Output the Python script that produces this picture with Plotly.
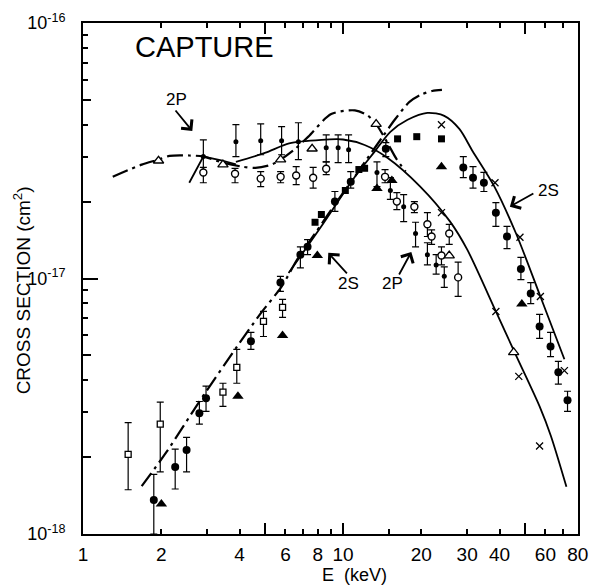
import math
import plotly.graph_objects as go

# ---------------- theory curves ----------------
p2_dashdot_E = [1.30, 1.68, 1.95, 2.15, 2.56, 2.9, 3.45, 4.08, 4.6, 5.3, 5.75, 6.5, 7.35, 9.0, 11.1, 12.4, 13.4, 14.8, 16.0, 17.4]
p2_dashdot_sigma = [2.5e-17, 2.79e-17, 2.92e-17, 3.02e-17, 3.03e-17, 3.0e-17, 2.84e-17, 2.74e-17, 2.71e-17, 2.79e-17, 2.92e-17, 3.2e-17, 3.59e-17, 4.4e-17, 4.55e-17, 4.35e-17, 4.02e-17, 3.4e-17, 2.95e-17, 2.62e-17]

s2_dashdot_E = [1.68, 2.09, 2.8, 3.9, 4.82, 5.8, 6.7, 7.8, 9.2, 10.7, 12.4, 14.2, 15.8, 18.0, 20.0, 22.0, 24.0]
s2_dashdot_sigma = [1.54e-18, 2.09e-18, 3.3e-18, 5.4e-18, 7.3e-18, 9.3e-18, 1.2e-17, 1.5e-17, 1.92e-17, 2.38e-17, 2.95e-17, 3.59e-17, 4.18e-17, 4.91e-17, 5.25e-17, 5.42e-17, 5.47e-17]

p2_solid_a_E = [2.56, 2.9, 3.4, 3.87]
p2_solid_a_sigma = [2.37e-17, 3.0e-17, 2.9e-17, 2.8e-17]
p2_solid_b_E = [3.87, 5.0, 6.2, 8.25, 10.0, 12.1, 14.8, 19.8, 25.8, 30.0, 38.7, 46.5, 57.0, 63.0, 72.3]
p2_solid_b_sigma = [2.86e-17, 3.1e-17, 3.38e-17, 3.49e-17, 3.5e-17, 3.33e-17, 2.97e-17, 2.29e-17, 1.67e-17, 1.3e-17, 7.43e-18, 4.95e-18, 3.16e-18, 2.42e-18, 1.53e-18]

s2_solid_E = [6.17, 8.25, 11.1, 13.2, 15.2, 17.7, 21.1, 24.5, 28.0, 31.5, 38.1, 46.4, 57.4, 71.0]
s2_solid_sigma = [1.05e-17, 1.6e-17, 2.5e-17, 3.13e-17, 3.75e-17, 4.18e-17, 4.45e-17, 4.33e-17, 3.85e-17, 3.15e-17, 2.3e-17, 1.49e-17, 8.5e-18, 4.83e-18]

# ---------------- 2P data ----------------
p2_dot_E = [2.9, 3.87, 4.82, 5.8, 6.73, 8.61, 9.57, 10.5, 13.5, 15.2, 17.1, 19.0, 21.1, 22.8, 24.5]
p2_dot_sigma = [3.0e-17, 3.43e-17, 3.46e-17, 3.46e-17, 3.43e-17, 3.25e-17, 3.25e-17, 3.19e-17, 2.6e-17, 2.21e-17, 1.91e-17, 1.5e-17, 1.24e-17, 1.13e-17, 1.02e-17]
p2_dot_lo = [2.6e-17, 3.0e-17, 3.05e-17, 3.05e-17, 2.92e-17, 2.86e-17, 2.84e-17, 2.84e-17, 2.29e-17, 2.04e-17, 1.67e-17, 1.33e-17, 1.13e-17, 1.04e-17, 9.23e-18]
p2_dot_hi = [3.49e-17, 4.0e-17, 4.03e-17, 3.93e-17, 4.07e-17, 3.65e-17, 3.65e-17, 3.65e-17, 2.86e-17, 2.48e-17, 2.13e-17, 1.66e-17, 1.38e-17, 1.24e-17, 1.11e-17]

p2_open_E = [2.9, 3.84, 4.82, 5.75, 6.6, 7.67, 8.61, 14.5, 16.1, 18.8, 21.1, 21.9, 23.9, 25.6, 27.7]
p2_open_sigma = [2.6e-17, 2.57e-17, 2.46e-17, 2.5e-17, 2.53e-17, 2.48e-17, 2.69e-17, 2.5e-17, 2.0e-17, 1.91e-17, 1.63e-17, 1.46e-17, 1.23e-17, 1.5e-17, 1.01e-17]
p2_open_lo = [2.37e-17, 2.37e-17, 2.29e-17, 2.37e-17, 2.33e-17, 2.26e-17, 2.55e-17, 2.37e-17, 1.86e-17, 1.81e-17, 1.46e-17, 1.36e-17, 1.13e-17, 1.36e-17, 8.51e-18]
p2_open_hi = [2.72e-17, 2.7e-17, 2.62e-17, 2.62e-17, 2.74e-17, 2.72e-17, 2.86e-17, 2.67e-17, 2.17e-17, 2.0e-17, 1.81e-17, 1.55e-17, 1.33e-17, 1.63e-17, 1.16e-17]

p2_tri_E = [1.95, 3.45, 5.75, 7.6, 13.4, 25.6, 45.3]
p2_tri_sigma = [2.89e-17, 2.79e-17, 2.92e-17, 3.22e-17, 4.02e-17, 1.23e-17, 5.14e-18]

# ---------------- crosses ----------------
cross_E = [23.9, 38.7, 47.4, 57.0, 23.9, 38.4, 47.9, 57.4, 71.0]
cross_sigma = [1.81e-17, 7.43e-18, 4.14e-18, 2.21e-18, 4.0e-17, 2.37e-17, 1.45e-17, 8.5e-18, 4.36e-18]

# ---------------- 2S data ----------------
s2_sq_E = [7.8, 8.25, 10.2, 11.5, 12.1, 16.2, 19.2, 23.9]
s2_sq_sigma = [1.66e-17, 1.78e-17, 2.21e-17, 2.67e-17, 2.7e-17, 3.52e-17, 3.59e-17, 3.52e-17]

s2_dot_E = [1.87, 2.26, 2.5, 2.8, 2.97, 4.42, 5.74, 6.85, 7.3, 9.3, 10.7, 14.6,
            29.0, 31.6, 34.8, 38.7, 42.7, 48.3, 52.7, 57.0, 62.8, 67.3, 73.0]
s2_dot_sigma = [1.36e-18, 1.83e-18, 2.13e-18, 2.97e-18, 3.4e-18, 5.68e-18, 9.64e-18, 1.24e-17, 1.33e-17, 2.0e-17, 2.39e-17, 3.22e-17,
                2.72e-17, 2.48e-17, 2.37e-17, 1.81e-17, 1.46e-17, 1.09e-17, 8.73e-18, 6.49e-18, 5.42e-18, 4.3e-18, 3.34e-18]
s2_dot_lo = [1.0e-18, 1.5e-18, 1.75e-18, 2.69e-18, 3.02e-18, 5.28e-18, 8.9e-18, 1.1e-17, 1.24e-17, 1.83e-17, 2.26e-17, 3.0e-17,
             2.48e-17, 2.26e-17, 2.19e-17, 1.6e-17, 1.31e-17, 9.9e-18, 7.98e-18, 5.83e-18, 4.95e-18, 3.86e-18, 3.02e-18]
s2_dot_hi = [1.71e-18, 2.15e-18, 2.39e-18, 3.3e-18, 3.79e-18, 6.15e-18, 1.02e-17, 1.33e-17, 1.42e-17, 2.19e-17, 2.62e-17, 3.4e-17,
             3.0e-17, 2.74e-17, 2.6e-17, 1.98e-17, 1.6e-17, 1.21e-17, 9.64e-18, 7.24e-18, 6.15e-18, 4.74e-18, 3.62e-18]

s2_tri_E = [2.0, 3.94, 5.85, 7.96, 13.5, 15.4, 23.9, 48.7]
s2_tri_sigma = [1.31e-18, 3.46e-18, 5.98e-18, 1.23e-17, 2.25e-17, 2.42e-17, 2.74e-17, 7.94e-18]

s2_osq_E = [1.49, 1.98, 3.45, 3.9, 4.94, 5.85]
s2_osq_sigma = [2.05e-18, 2.69e-18, 3.59e-18, 4.49e-18, 6.79e-18, 7.71e-18]
s2_osq_lo = [1.49e-18, 1.75e-18, 3.16e-18, 3.89e-18, 5.93e-18, 7.05e-18]
s2_osq_hi = [2.73e-18, 3.28e-18, 3.89e-18, 5.28e-18, 7.43e-18, 8.28e-18]

# ---------------- axes ----------------
x_label_vals = [1, 2, 4, 6, 8, 10, 20, 30, 40, 60, 80]
x_label_text = ["1", "2", "4", "6", "8", "10", "20", "30", "40", "60", "80"]
x_minor_vals = [3, 5, 7, 9, 15, 50, 70]
x_long_vals = [5, 10, 50]
y_label_vals = [1e-18, 1e-17, 1e-16]
y_label_text = ["10<sup>-18</sup>", "10<sup>-17</sup>", "10<sup>-16</sup>"]
y_mid_vals = [2e-18, 5e-18, 2e-17, 5e-17]
y_minor_vals = [3e-18, 4e-18, 6e-18, 7e-18, 8e-18, 9e-18, 3e-17, 4e-17, 6e-17, 7e-17, 8e-17, 9e-17]

FONT = "Liberation Sans, Arial, sans-serif"
K = "black"
DASHDOT = "16px,5px,3px,5px"

fig = go.Figure()


def err(y, lo, hi):
    return dict(type="data", symmetric=False,
                array=[h - v for v, h in zip(y, hi)],
                arrayminus=[v - l for v, l in zip(y, lo)],
                color=K, thickness=1.2, width=3.5)


# curves
fig.add_trace(go.Scatter(x=p2_dashdot_E, y=p2_dashdot_sigma, mode="lines",
                         line=dict(color=K, width=2.2, dash=DASHDOT, shape="spline", smoothing=0.8)))
fig.add_trace(go.Scatter(x=s2_dashdot_E, y=s2_dashdot_sigma, mode="lines",
                         line=dict(color=K, width=2.2, dash=DASHDOT, shape="spline", smoothing=0.8)))
fig.add_trace(go.Scatter(x=p2_solid_a_E, y=p2_solid_a_sigma, mode="lines",
                         line=dict(color=K, width=1.8)))
fig.add_trace(go.Scatter(x=p2_solid_b_E, y=p2_solid_b_sigma, mode="lines",
                         line=dict(color=K, width=1.8, shape="spline", smoothing=0.8)))
fig.add_trace(go.Scatter(x=s2_solid_E, y=s2_solid_sigma, mode="lines",
                         line=dict(color=K, width=1.8, shape="spline", smoothing=0.8)))

# data
fig.add_trace(go.Scatter(x=p2_dot_E, y=p2_dot_sigma, mode="markers",
                         marker=dict(symbol="circle", size=5, color=K),
                         error_y=err(p2_dot_sigma, p2_dot_lo, p2_dot_hi)))
fig.add_trace(go.Scatter(x=p2_open_E, y=p2_open_sigma, mode="markers",
                         marker=dict(symbol="circle", size=7, color="white", line=dict(color=K, width=1.4)),
                         error_y=err(p2_open_sigma, p2_open_lo, p2_open_hi)))
fig.add_trace(go.Scatter(x=p2_tri_E, y=p2_tri_sigma, mode="markers",
                         marker=dict(symbol="triangle-up", size=9, color="white", line=dict(color=K, width=1.3))))
fig.add_trace(go.Scatter(x=cross_E, y=cross_sigma, mode="markers",
                         marker=dict(symbol="x-thin", size=7, color=K, line=dict(color=K, width=1.3))))
fig.add_trace(go.Scatter(x=s2_sq_E, y=s2_sq_sigma, mode="markers",
                         marker=dict(symbol="square", size=7, color=K)))
fig.add_trace(go.Scatter(x=s2_dot_E, y=s2_dot_sigma, mode="markers",
                         marker=dict(symbol="circle", size=8, color=K),
                         error_y=err(s2_dot_sigma, s2_dot_lo, s2_dot_hi)))
fig.add_trace(go.Scatter(x=s2_tri_E, y=s2_tri_sigma, mode="markers",
                         marker=dict(symbol="triangle-up", size=10, color=K)))
fig.add_trace(go.Scatter(x=s2_osq_E, y=s2_osq_sigma, mode="markers",
                         marker=dict(symbol="square", size=6, color="white", line=dict(color=K, width=1.3)),
                         error_y=err(s2_osq_sigma, s2_osq_lo, s2_osq_hi)))

# dummy trace on overlay axes so they render
fig.add_trace(go.Scatter(x=[None], y=[None], xaxis="x2", yaxis="y2", showlegend=False))

lx = [math.log10(1) - 0.0005, math.log10(80) + 0.0005]
ly = [-18, -16]

fig.update_layout(
    width=589, height=586,
    margin=dict(l=83, r=11, t=23, b=52, autoexpand=False),
    paper_bgcolor="white", plot_bgcolor="white",
    showlegend=False,
    font=dict(family=FONT, color=K),
    xaxis=dict(type="log", range=lx, showgrid=False, zeroline=False, automargin=False,
               showline=True, linecolor=K, linewidth=2, mirror="ticks",
               ticks="inside", ticklen=5, tickwidth=1.5, tickcolor=K,
               tickmode="array", tickvals=x_label_vals, ticktext=x_label_text,
               tickfont=dict(size=19, family=FONT, color=K), ticklabelstandoff=2,
               minor=dict(tickmode="array", tickvals=x_minor_vals, ticks="inside",
                          ticklen=5, tickwidth=1.5, tickcolor=K, showgrid=False)),
    xaxis2=dict(type="log", range=lx, overlaying="x", side="bottom", anchor="y",
                automargin=False,
                showgrid=False, zeroline=False, showline=False, mirror="ticks",
                ticks="inside", ticklen=11, tickwidth=1.5, tickcolor=K,
                tickmode="array", tickvals=x_long_vals, showticklabels=False),
    yaxis=dict(type="log", range=ly, showgrid=False, zeroline=False, automargin=False,
               showline=True, linecolor=K, linewidth=2, mirror=True,
               ticks="inside", ticklen=15, tickwidth=1.5, tickcolor=K,
               tickmode="array", tickvals=y_label_vals, ticktext=y_label_text,
               tickfont=dict(size=18, family=FONT, color=K), ticklabelstandoff=12,
               minor=dict(tickmode="array", tickvals=y_minor_vals, ticks="inside",
                          ticklen=5, tickwidth=1.5, tickcolor=K, showgrid=False)),
    yaxis2=dict(type="log", range=ly, overlaying="y", side="left", anchor="x",
                automargin=False,
                showgrid=False, zeroline=False, showline=False,
                ticks="inside", ticklen=8, tickwidth=1.5, tickcolor=K,
                tickmode="array", tickvals=y_mid_vals, showticklabels=False),
)

L = math.log10
ann = []
# titles
ann.append(dict(text="CROSS SECTION (cm<sup>2</sup>)", xref="paper", yref="paper",
                x=-0.123, y=0.477, textangle=-90, showarrow=False,
                font=dict(size=19, family=FONT, color=K), xanchor="center", yanchor="middle"))
ann.append(dict(text="E\u00a0\u00a0(keV)", xref="paper", yref="paper", x=0.549, y=-0.08,
                showarrow=False, font=dict(size=18, family=FONT, color=K),
                xanchor="center", yanchor="middle", borderpad=0))
ann.append(dict(text="CAPTURE", xref="paper", yref="paper", x=0.101, y=0.953,
                showarrow=False, font=dict(size=29, family=FONT, color=K),
                xanchor="left", yanchor="middle"))

# arrows: (head E, head sigma, ax, ay)
arrows = [(2.63, 3.78e-17, -18, -22), (43.8, 1.91e-17, 25, -14),
          (8.77, 1.26e-17, 20, 22), (18.3, 1.27e-17, -13, 24)]
for e, s, dx, dy in arrows:
    ann.append(dict(x=L(e), y=L(s), xref="x", yref="y", text="", showarrow=True,
                    ax=dx, ay=dy, axref="pixel", ayref="pixel",
                    arrowhead=4, arrowsize=1.5, arrowwidth=1.8, arrowcolor=K))
# labels: (E, sigma, text)
labels = [(2.28, 5.0e-17, "2P"), (61.7, 2.21e-17, "2S"),
          (10.45, 9.56e-18, "2S"), (15.5, 9.56e-18, "2P")]
for e, s, t in labels:
    ann.append(dict(x=L(e), y=L(s), xref="x", yref="y", text=t, showarrow=False,
                    font=dict(size=17, family=FONT, color=K), xanchor="center", yanchor="middle"))

fig.update_layout(annotations=ann)
fig.write_html("out.html", config={"displayModeBar": False},
               post_script="document.body.style.margin='0px';document.body.style.overflow='hidden';")
